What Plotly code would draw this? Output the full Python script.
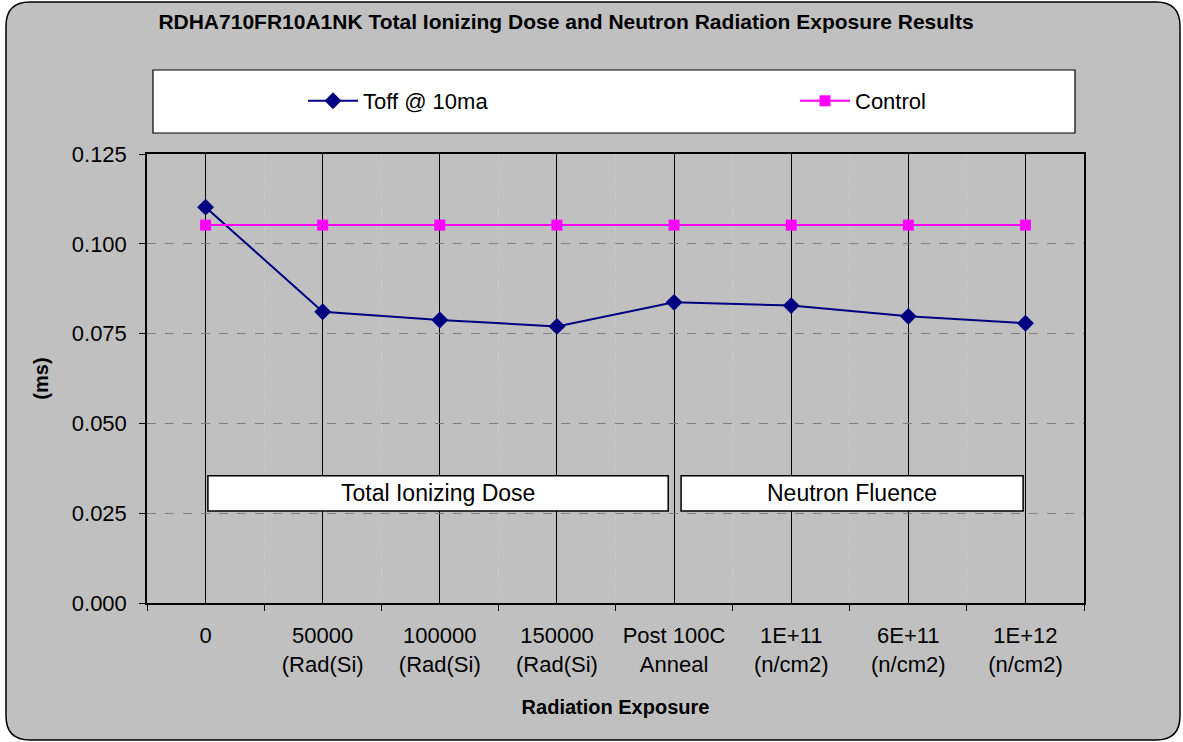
import plotly.graph_objects as go

# ---- data ----
categories = ["0", "50000<br>(Rad(Si)", "100000<br>(Rad(Si)", "150000<br>(Rad(Si)",
              "Post 100C<br>Anneal", "1E+11<br>(n/cm2)", "6E+11<br>(n/cm2)", "1E+12<br>(n/cm2)"]
toff_10ma = [0.1102, 0.0811, 0.0788, 0.0770, 0.0837, 0.0828, 0.0798, 0.0779]
control = [0.1052, 0.1052, 0.1052, 0.1052, 0.1052, 0.1052, 0.1052, 0.1052]
y_ticks = [0.0, 0.025, 0.05, 0.075, 0.1, 0.125]

W, H = 1183, 742
L, R, T, B = 147, 1084, 154, 603  # plot area in px
FONT = "Liberation Sans, Arial, sans-serif"

def px(x):
    return (x - L) / (R - L)

def py(y):
    return (B - y) / (B - T)

xpos = list(range(len(categories)))

fig = go.Figure()
fig.add_trace(go.Scatter(
    x=xpos, y=toff_10ma, name="Toff @ 10ma", mode="lines+markers",
    line=dict(color="#000080", width=2),
    marker=dict(symbol="diamond", size=13, color="#000080"),
    legend="legend"))
fig.add_trace(go.Scatter(
    x=xpos, y=control, name="Control", mode="lines+markers",
    line=dict(color="#ff00ff", width=2),
    marker=dict(symbol="square", size=11, color="#ff00ff"),
    legend="legend2"))

# outer rounded frame
x0, x1, y0, y1 = px(6), px(1180), py(2), py(740)
rx, ry = 24 / (R - L), 24 / (B - T)
frame = (f"M {x0+rx},{y0} L {x1-rx},{y0} Q {x1},{y0} {x1},{y0-ry} "
         f"L {x1},{y1+ry} Q {x1},{y1} {x1-rx},{y1} L {x0+rx},{y1} "
         f"Q {x0},{y1} {x0},{y1+ry} L {x0},{y0-ry} Q {x0},{y0} {x0+rx},{y0} Z")
shapes = [
    dict(type="path", path=frame, xref="paper", yref="paper", layer="below",
         fillcolor="#c0c0c0", line=dict(color="black", width=1.5)),
    dict(type="rect", xref="paper", yref="paper", layer="below",
         x0=px(153), x1=px(1075), y0=py(70), y1=py(133),
         fillcolor="white", line=dict(color="black", width=1.2)),
    dict(type="rect", xref="x", yref="y", layer="above",
         x0=0.02, x1=3.95, y0=0.0256, y1=0.0354,
         fillcolor="white", line=dict(color="black", width=1.5)),
    dict(type="rect", xref="x", yref="y", layer="above",
         x0=4.06, x1=6.98, y0=0.0256, y1=0.0354,
         fillcolor="white", line=dict(color="black", width=1.5)),
]

annotations = [
    dict(x=1.985, y=0.0305, xref="x", yref="y", text="Total Ionizing Dose",
         showarrow=False, font=dict(family=FONT, size=23, color="black")),
    dict(x=5.52, y=0.0305, xref="x", yref="y", text="Neutron Fluence",
         showarrow=False, font=dict(family=FONT, size=23, color="black")),
]

legend_common = dict(orientation="h", xanchor="left", y=py(101), yanchor="middle",
                     bgcolor="rgba(0,0,0,0)", borderwidth=0, itemwidth=50,
                     font=dict(family=FONT, size=22, color="black"))

fig.update_layout(
    width=W, height=H,
    margin=dict(l=L, r=W - R, t=T, b=H - B),
    paper_bgcolor="white", plot_bgcolor="white",
    font=dict(family=FONT, size=22, color="black"),
    title=dict(text="<b>RDHA710FR10A1NK Total Ionizing Dose and Neutron Radiation Exposure Results</b>",
               x=566 / W, xanchor="center", y=1 - 22 / H, yanchor="middle",
               font=dict(family=FONT, size=21, color="black")),
    showlegend=True,
    legend=dict(x=px(303), **legend_common),
    legend2=dict(x=px(795), **legend_common),
    shapes=shapes, annotations=annotations,
    xaxis=dict(range=[-0.5, len(categories) - 0.5], tickvals=xpos, ticktext=categories,
               showgrid=True, gridcolor="#000000", gridwidth=1, ticks="",
               showline=True, linecolor="black", linewidth=1.5, mirror=True,
               zeroline=False, tickfont=dict(family=FONT, size=22),
               ticklabelstandoff=12,
               minor=dict(tickvals=[i - 0.5 for i in range(len(categories) + 1)],
                          ticks="outside", ticklen=6, tickcolor="black", tickwidth=1,
                          showgrid=True, gridcolor="#c8c8c8", griddash="dash", gridwidth=1),
               title=dict(text="<b>Radiation Exposure</b>", standoff=24,
                          font=dict(family=FONT, size=20))),
    yaxis=dict(range=[0, 0.125], tickvals=y_ticks, tickformat=".3f",
               showgrid=True, gridcolor="#808080", griddash="dash", gridwidth=1,
               ticks="outside", ticklen=6, tickcolor="black",
               showline=True, linecolor="black", linewidth=1.5, mirror=True,
               zeroline=False, tickfont=dict(family=FONT, size=22),
               ticklabelstandoff=8,
               title=dict(text="<b>(ms)</b>", standoff=18,
                          font=dict(family=FONT, size=20))),
)

fig.write_html("out.html", config={"displayModeBar": False},
               post_script="document.body.style.margin='0';")
